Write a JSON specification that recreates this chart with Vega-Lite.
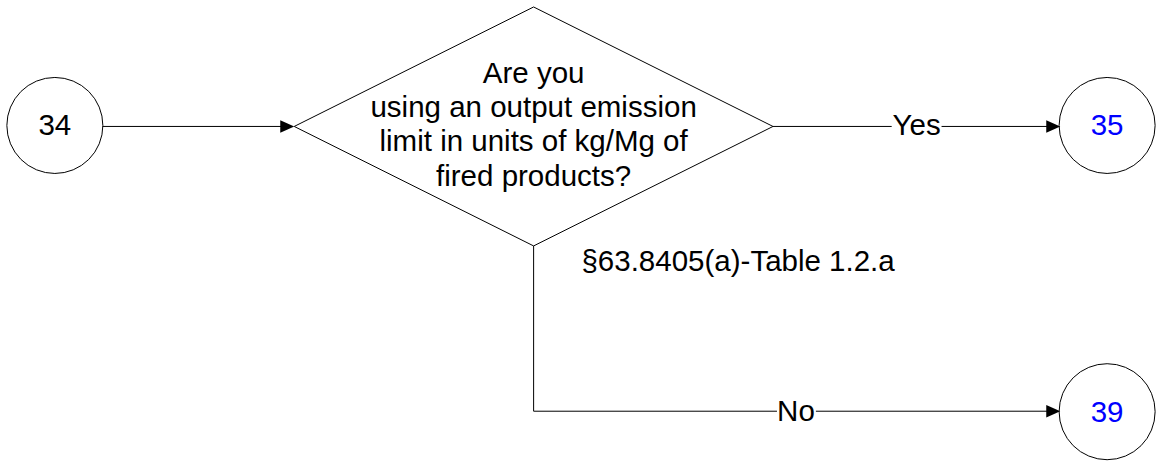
{
  "$schema": "https://vega.github.io/schema/vega-lite/v6.json",
  "width": 1157,
  "height": 462,
  "autosize": {"type": "fit", "contains": "padding"},
  "padding": 0,
  "background": "white",
  "view": {"stroke": null},
  "config": {"text": {"font": "Liberation Sans"}},
  "datasets": {
    "segments": [
      {"x1": 103, "y1": 127, "x2": 283, "y2": 127},
      {"x1": 775, "y1": 127, "x2": 894, "y2": 127},
      {"x1": 944, "y1": 127, "x2": 1050, "y2": 127},
      {"x1": 535, "y1": 247, "x2": 535, "y2": 413},
      {"x1": 535, "y1": 413, "x2": 779, "y2": 413},
      {"x1": 818, "y1": 413, "x2": 1050, "y2": 413},
      {"x1": 535, "y1": 7, "x2": 775, "y2": 127},
      {"x1": 775, "y1": 127, "x2": 535, "y2": 247},
      {"x1": 535, "y1": 247, "x2": 295, "y2": 127},
      {"x1": 295, "y1": 127, "x2": 535, "y2": 7}
    ],
    "arrows": [
      {"x": 288, "y": 127},
      {"x": 1056, "y": 127},
      {"x": 1056, "y": 413}
    ],
    "nodes": [
      {"x": 55, "y": 126, "label": "34", "kind": "start"},
      {"x": 1110, "y": 126, "label": "35", "kind": "link"},
      {"x": 1110, "y": 413.5, "label": "39", "kind": "link"}
    ],
    "texts": [
      {"x": 535, "y": 83, "label": "Are you"},
      {"x": 535, "y": 118, "label": "using an output emission"},
      {"x": 535, "y": 152, "label": "limit in units of kg/Mg of"},
      {"x": 535, "y": 187, "label": "fired products?"},
      {"x": 919, "y": 136, "label": "Yes"},
      {"x": 798, "y": 423, "label": "No"},
      {"x": 740, "y": 272, "label": "§63.8405(a)-Table 1.2.a"}
    ]
  },
  "layer": [
    {
      "data": {"name": "segments"},
      "mark": {"type": "rule", "color": "black", "strokeWidth": 1},
      "encoding": {
        "x": {"field": "x1", "type": "quantitative", "scale": {"domain": [0, 1157], "nice": false, "zero": false}, "axis": null},
        "y": {"field": "y1", "type": "quantitative", "scale": {"domain": [462, 0], "nice": false, "zero": false}, "axis": null},
        "x2": {"field": "x2"},
        "y2": {"field": "y2"}
      }
    },
    {
      "data": {"name": "arrows"},
      "mark": {"type": "point", "shape": "M1,0L-1,-0.9L-1,0.9Z", "size": 196, "filled": true, "color": "black", "opacity": 1},
      "encoding": {
        "x": {"field": "x", "type": "quantitative", "axis": null},
        "y": {"field": "y", "type": "quantitative", "axis": null}
      }
    },
    {
      "data": {"name": "nodes"},
      "mark": {"type": "point", "shape": "circle", "size": 9216, "filled": false, "stroke": "black", "strokeWidth": 1, "fill": "white", "fillOpacity": 0, "opacity": 1},
      "encoding": {
        "x": {"field": "x", "type": "quantitative", "axis": null},
        "y": {"field": "y", "type": "quantitative", "axis": null}
      }
    },
    {
      "data": {"name": "nodes"},
      "mark": {"type": "text", "fontSize": 29.5, "align": "center", "baseline": "middle", "dy": 1},
      "encoding": {
        "x": {"field": "x", "type": "quantitative", "axis": null},
        "y": {"field": "y", "type": "quantitative", "axis": null},
        "text": {"field": "label"},
        "color": {"field": "kind", "type": "nominal", "scale": {"domain": ["start", "link"], "range": ["black", "#0000FF"]}, "legend": null}
      }
    },
    {
      "data": {"name": "texts"},
      "mark": {"type": "text", "fontSize": 29.5, "align": "center", "baseline": "alphabetic", "color": "black"},
      "encoding": {
        "x": {"field": "x", "type": "quantitative", "axis": null},
        "y": {"field": "y", "type": "quantitative", "axis": null},
        "text": {"field": "label"}
      }
    }
  ]
}
